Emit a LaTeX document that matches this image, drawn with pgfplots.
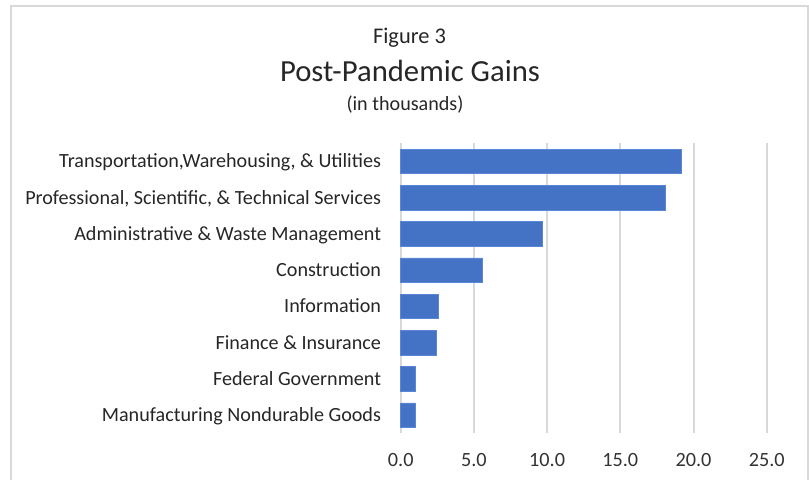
\documentclass[border=0pt]{standalone}
\usepackage{pgfplots}
\pgfplotsset{compat=1.18}
\usepackage{fontspec}
\setmainfont{Carlito}
\definecolor{barblue}{HTML}{4472C4}
\definecolor{baredge}{HTML}{5B86D6}
\definecolor{gridgray}{HTML}{D9D9D9}
\definecolor{framegray}{HTML}{D9D9D9}
\definecolor{txt}{HTML}{262626}
\definecolor{ticktxt}{HTML}{333333}
\begin{document}
\begin{tikzpicture}[x=1bp,y=1bp]
\useasboundingbox (0,0) rectangle (809,480);
\draw[color=framegray, line width=2bp] (11,-2) -- (11,474) -- (808,474) -- (808,-2);
\node[anchor=base, color=txt, font=\fontsize{22.5}{25}\selectfont] at (409.5,436) {Figure 3};
\node[anchor=base, color=txt, font=\fontsize{30.8}{34}\selectfont] at (410,398.3) {Post-Pandemic Gains};
\node[anchor=base, color=txt, font=\fontsize{20.2}{23}\selectfont] at (405,369.3) {(in thousands)};
\begin{axis}[
  at={(400.7bp,46.7bp)}, anchor=south west,
  width=366bp, height=290bp, scale only axis,
  xbar, bar width=24.4bp,
  xmin=0, xmax=25, ymin=-0.5, ymax=7.5,
  y dir=reverse,
  ytick={0,1,2,3,4,5,6,7},
  yticklabels={{Transportation,Warehousing, \& Utilities},
               {Professional, Scientific, \& Technical Services},
               {Administrative \& Waste Management},
               {Construction},
               {Information},
               {Finance \& Insurance},
               {Federal Government},
               {Manufacturing Nondurable Goods}},
  xtick={0,5,10,15,20,25},
  /pgf/number format/assume math mode=true,
  xticklabel={\pgfmathprintnumber[fixed,fixed zerofill,precision=1]{\tick}},
  xticklabel style={anchor=base, inner sep=0pt, yshift=-33.4bp, color=ticktxt, font=\fontsize{20.3}{23}\selectfont},
  yticklabel style={anchor=base east, inner sep=0pt, xshift=-19.5bp, yshift=-6.5bp, color=txt, font=\fontsize{20.2}{23}\selectfont},
  major tick length=0pt,
  axis line style={draw=none},
  xmajorgrids,
  grid style={line width=2bp, color=gridgray},
  clip=false,
]
\addplot[fill=barblue, draw=baredge, line width=0.6bp] coordinates {
  (19.2,0) (18.1,1) (9.7,2) (5.6,3) (2.6,4) (2.4,5) (1.0,6) (1.0,7)
};
\end{axis}
\end{tikzpicture}
\end{document}
